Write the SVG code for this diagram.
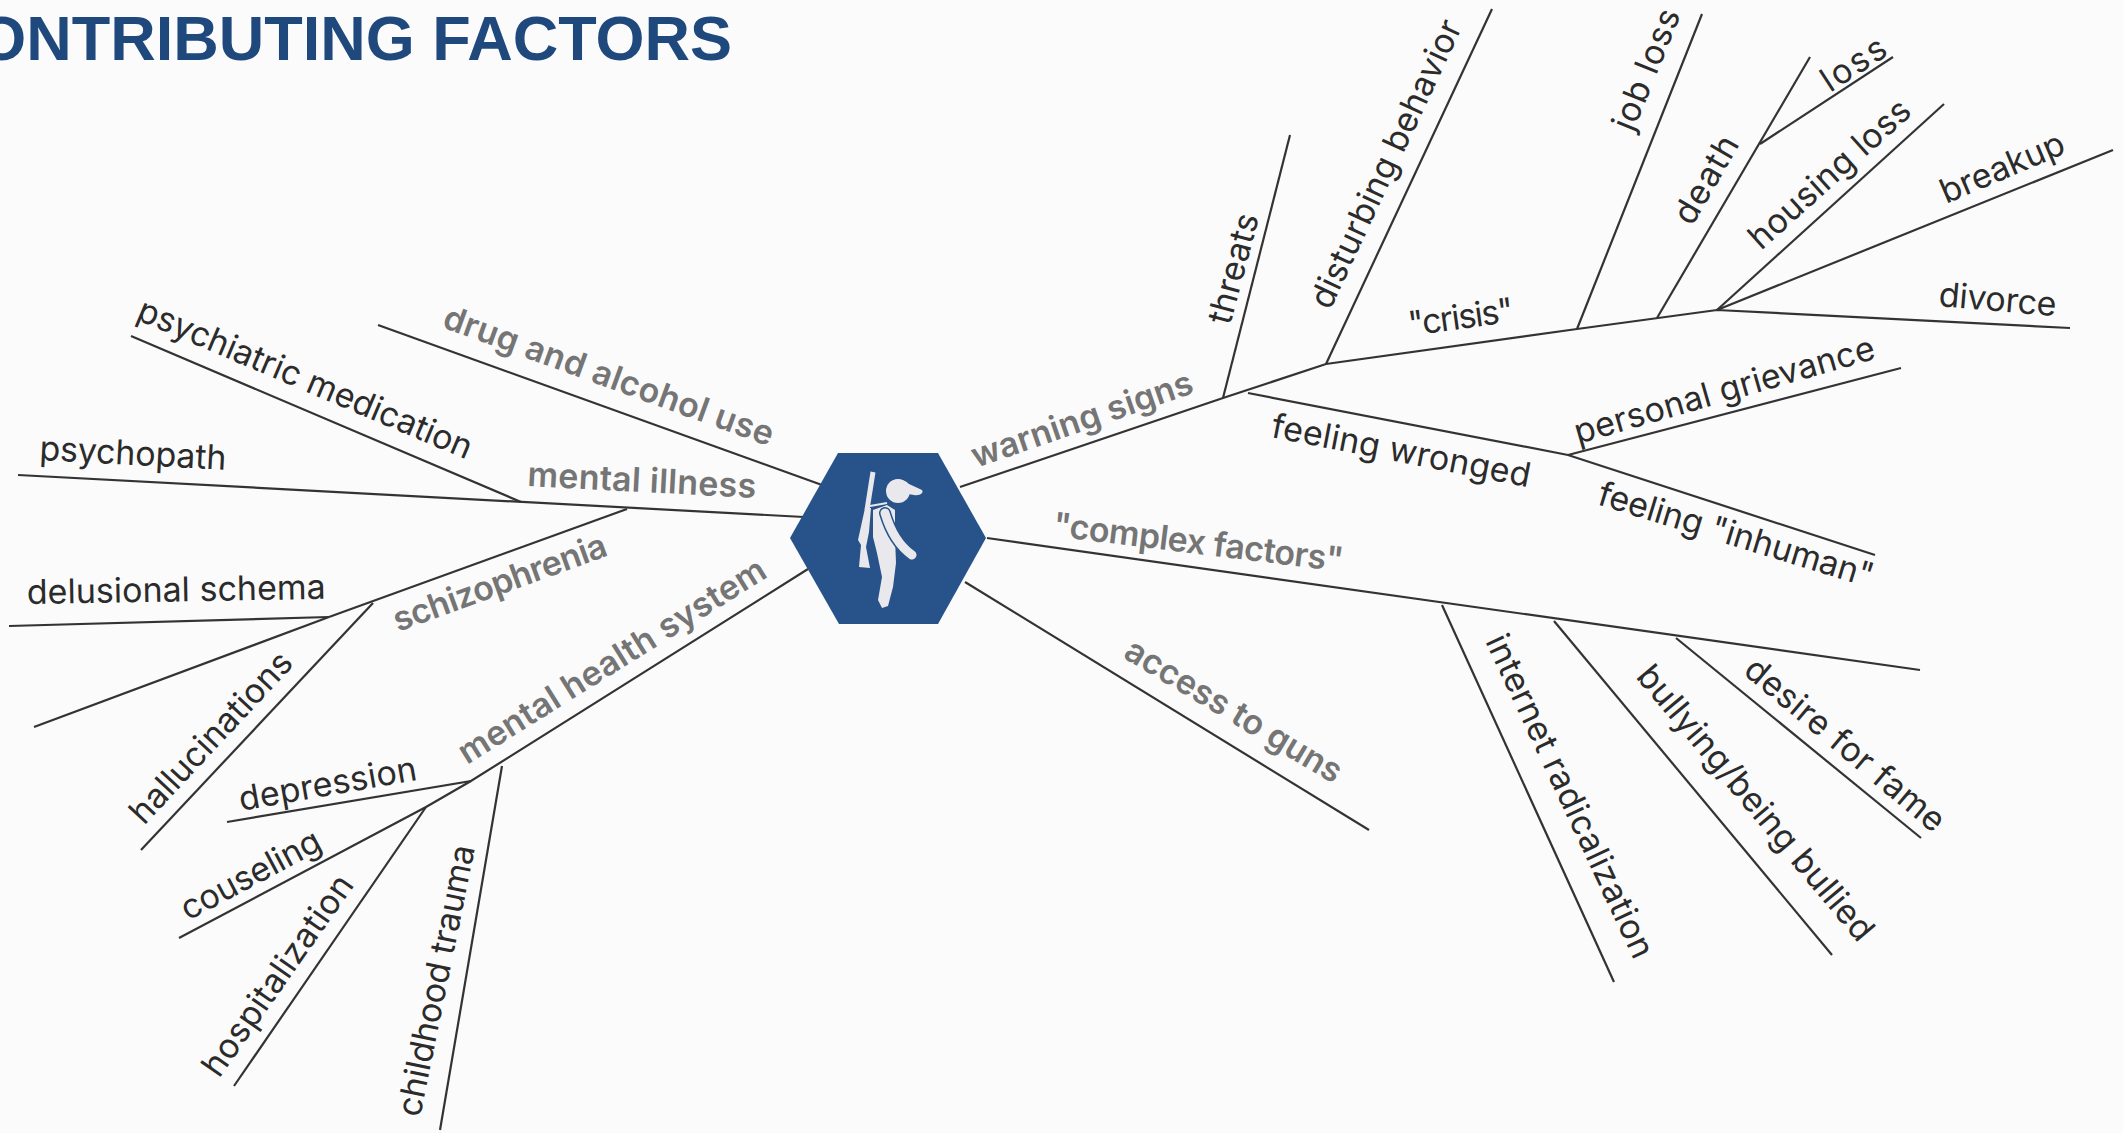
<svg xmlns="http://www.w3.org/2000/svg" width="2123" height="1133" viewBox="0 0 2123 1133">
<style>
.c{fill:none;stroke:#333;stroke-width:2.2}
text{font-family:Inter,"Open Sans",sans-serif;font-size:34px;fill:#2b2b2b}
.g{font-weight:600;fill:#757575}
.t{font-family:"Liberation Sans",Arial,sans-serif;font-size:63px;font-weight:700;fill:#1f497d}
.w{fill:#e9e8ec}
</style>
<rect width="2123" height="1133" fill="#fbfbfb"/>
<text class="t" x="732" y="60" text-anchor="end">CONTRIBUTING FACTORS</text>
<g id="connectors">
<path class="c" d="M378 325L822 485"/>
<path class="c" d="M131 336L521 502"/>
<path class="c" d="M18 475L804 517"/>
<path class="c" d="M627 509L329 617"/>
<path class="c" d="M373 603L141 850"/>
<path class="c" d="M9 626L329 617"/>
<path class="c" d="M34 727L329 617"/>
<path class="c" d="M808 569L471 781L227 822"/>
<path class="c" d="M502 766L440 1130"/>
<path class="c" d="M471 781L426 807L179 938"/>
<path class="c" d="M426 807L234 1086"/>
<path class="c" d="M960 487L1223 398L1326 364L1577 329L1717 310L2070 328"/>
<path class="c" d="M1223 398L1290 135"/>
<path class="c" d="M1326 364L1492 9"/>
<path class="c" d="M1577 329L1702 14"/>
<path class="c" d="M1657 318L1810 57"/>
<path class="c" d="M1760 144L1893 57"/>
<path class="c" d="M1717 310L1944 104"/>
<path class="c" d="M1717 310L2113 150"/>
<path class="c" d="M1248 393L1568 455L1875 555"/>
<path class="c" d="M1568 455L1901 368"/>
<path class="c" d="M987 538L1920 670"/>
<path class="c" d="M1442 605L1614 982"/>
<path class="c" d="M1554 621L1832 955"/>
<path class="c" d="M1676 638L1921 838"/>
<path class="c" d="M965 582L1369 830"/>
</g>
<g id="hub">
<polygon points="790,538 838,453 938,453 986,538 938,624 839,624" fill="#27538a"/>
<path d="M873 472L867 510" stroke="#e9e8ec" stroke-width="5" fill="none"/>
<polygon class="w" points="865,508 871,508 869,532 866,547 870,568 859,567 861,545 858,540"/>
<path d="M870 506L887 503" stroke="#e9e8ec" stroke-width="2" fill="none"/>
<circle class="w" cx="898" cy="491" r="12"/>
<path class="w" d="M890 482C896 478 904 479 909 484L922 490C924 493 920 496 914 495L902 493Z"/>
<polygon class="w" points="873,510 887,505 895,510 895,537 896,563 893,587 888,606 882,608 878,600 882,577 877,553 873,537"/>
<path d="M885 513C890 530 898 545 912 555" fill="none" stroke="#27538a" stroke-width="12" stroke-linecap="round"/>
<path d="M885 513C890 530 898 545 912 555" fill="none" stroke="#e9e8ec" stroke-width="9" stroke-linecap="round"/>
</g>
<g id="labels">
<text class="g" textLength="349" transform="translate(441 327) rotate(20)">drug and alcohol use</text>
<text class="g" textLength="229" transform="translate(527 486) rotate(3)">mental illness</text>
<text class="g" textLength="225" transform="translate(398 632) rotate(-20)">schizophrenia</text>
<text class="g" textLength="356" transform="translate(467 765) rotate(-32)">mental health system</text>
<text class="g" textLength="232" transform="translate(976 468) rotate(-19)">warning signs</text>
<text class="g" textLength="292" transform="translate(1052 536) rotate(7)">"complex factors"</text>
<text class="g" textLength="247" transform="translate(1122 657) rotate(31)">access to guns</text>
<text textLength="360" transform="translate(135 319) rotate(23)">psychiatric medication</text>
<text textLength="187" transform="translate(39 460) rotate(3)">psychopath</text>
<text textLength="299" transform="translate(27 604) rotate(-1)">delusional schema</text>
<text textLength="221" transform="translate(144 826) rotate(-47)">hallucinations</text>
<text textLength="180" transform="translate(241 811) rotate(-10)">depression</text>
<text textLength="154" transform="translate(188 921) rotate(-28)">couseling</text>
<text textLength="237" transform="translate(219 1079) rotate(-55)">hospitalization</text>
<text textLength="276" transform="translate(420 1118) rotate(-78.5)">childhood trauma</text>
<text textLength="113" transform="translate(1230 326) rotate(-75)">threats</text>
<text textLength="314" transform="translate(1330 311) rotate(-65)">disturbing behavior</text>
<text textLength="128" transform="translate(1633 133) rotate(-68)">job loss</text>
<text textLength="96" transform="translate(1692 227) rotate(-60)">death</text>
<text textLength="71" transform="translate(1830 93) rotate(-33)">loss</text>
<text textLength="205" transform="translate(1761 251) rotate(-42)">housing loss</text>
<text textLength="132" transform="translate(1946 204) rotate(-23)">breakup</text>
<text textLength="118" transform="translate(1938 306) rotate(5)">divorce</text>
<text textLength="106" transform="translate(1410 336) rotate(-8)">"crisis"</text>
<text textLength="263" transform="translate(1270 437) rotate(11)">feeling wronged</text>
<text textLength="311" transform="translate(1578 444) rotate(-16)">personal grievance</text>
<text textLength="286" transform="translate(1596 504) rotate(17)">feeling "inhuman"</text>
<text textLength="353" transform="translate(1485 641) rotate(65)">internet radicalization</text>
<text textLength="348" transform="translate(1635 677) rotate(50)">bullying/being bullied</text>
<text textLength="250" transform="translate(1742 673) rotate(40)">desire for fame</text>
</g>
</svg>
